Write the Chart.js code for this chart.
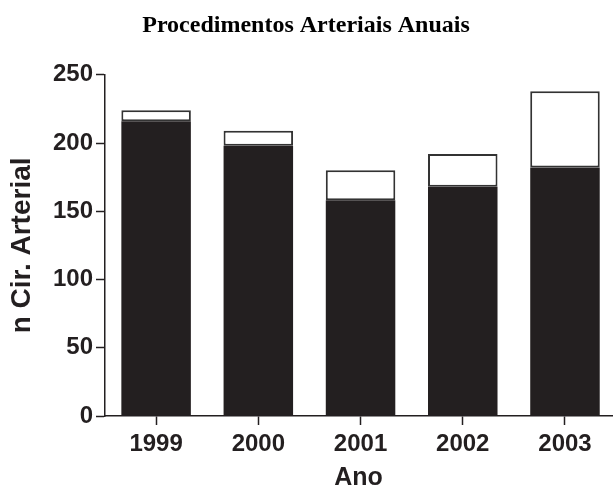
<!DOCTYPE html>
<html>
<head>
<meta charset="utf-8">
<script src="https://cdn.jsdelivr.net/npm/chart.js@4/dist/chart.umd.min.js"></script>
<style>
  html, body { margin: 0; padding: 0; background: #ffffff; overflow: hidden; }
  #wrap { width: 613px; height: 491px; position: relative; }
</style>
</head>
<body>
<div id="wrap"><canvas id="c"></canvas></div>
<script>
// ---- data ----
const years = [1999, 2000, 2001, 2002, 2003];
const blackPart = [216, 198, 158, 168, 182];   // lower (filled) portion
const whitePart = [8, 11, 22, 24, 56];         // upper (open) portion, stacked on top
const yTicks = [0, 50, 100, 150, 200, 250];

const chartTitle = 'Procedimentos Arteriais Anuais';
const xTitle = 'Ano';
const yTitle = 'n Cir. Arterial';

const ink = '#231f20';
const sans = "'Liberation Sans', Arial, sans-serif";

new Chart(document.getElementById('c'), {
  type: 'bar',
  data: {
    datasets: [
      {
        label: 'A',
        data: years.map((y, i) => ({ x: y, y: blackPart[i] })),
        backgroundColor: ink,
        borderWidth: 0,
        categoryPercentage: 1,
        barPercentage: 0.68
      },
      {
        label: 'B',
        data: years.map((y, i) => ({ x: y, y: whitePart[i] })),
        backgroundColor: '#ffffff',
        borderColor: '#333333',
        borderWidth: 2,
        borderSkipped: false,
        categoryPercentage: 1,
        barPercentage: 0.68
      }
    ]
  },
  options: {
    responsive: true,
    maintainAspectRatio: false,
    devicePixelRatio: 1,
    animation: false,
    layout: { padding: { left: 0, right: 1, top: 0, bottom: 0 } },
    plugins: {
      legend: { display: false },
      tooltip: { enabled: false },
      title: {
        display: true,
        text: chartTitle,
        color: '#000',
        font: { family: "'Liberation Serif', 'Times New Roman', serif", size: 24, weight: 'bold' },
        padding: { top: 11, bottom: 35 }
      }
    },
    scales: {
      x: {
        type: 'linear',
        stacked: true,
        offset: false,
        min: 1998.5,
        max: 2003.46,
        afterBuildTicks: (s) => { s.ticks = years.map(v => ({ value: v })); },
        afterFit: (s) => { s.height = 75; },
        grid: { offset: false, drawOnChartArea: false, drawTicks: true, tickLength: 9, tickColor: ink, tickWidth: 1.5 },
        border: { color: ink, width: 1.5 },
        ticks: {
          autoSkip: false, maxRotation: 0, padding: 5,
          color: ink,
          font: { family: sans, size: 24, weight: 'bold' },
          callback: (v) => String(v)
        },
        title: {
          display: true, text: xTitle, color: ink,
          font: { family: sans, size: 25, weight: 'bold', lineHeight: 1.0 },
          padding: { top: 0, bottom: 0 }
        }
      },
      y: {
        stacked: true,
        min: 0,
        max: 250,
        afterBuildTicks: (s) => { s.ticks = yTicks.map(v => ({ value: v })); },
        afterFit: (s) => { s.width = 105; },
        grid: { drawOnChartArea: false, drawTicks: true, tickLength: 9, tickColor: ink, tickWidth: 1.5 },
        border: { color: ink, width: 1.5 },
        ticks: {
          padding: 3,
          color: ink,
          font: { family: sans, size: 24, weight: 'bold' }
        },
        title: {
          display: true, text: yTitle, color: ink,
          font: { family: sans, size: 28, weight: 'bold' },
          padding: { top: 5, bottom: 0 }
        }
      }
    }
  }
});
</script>
</body>
</html>
